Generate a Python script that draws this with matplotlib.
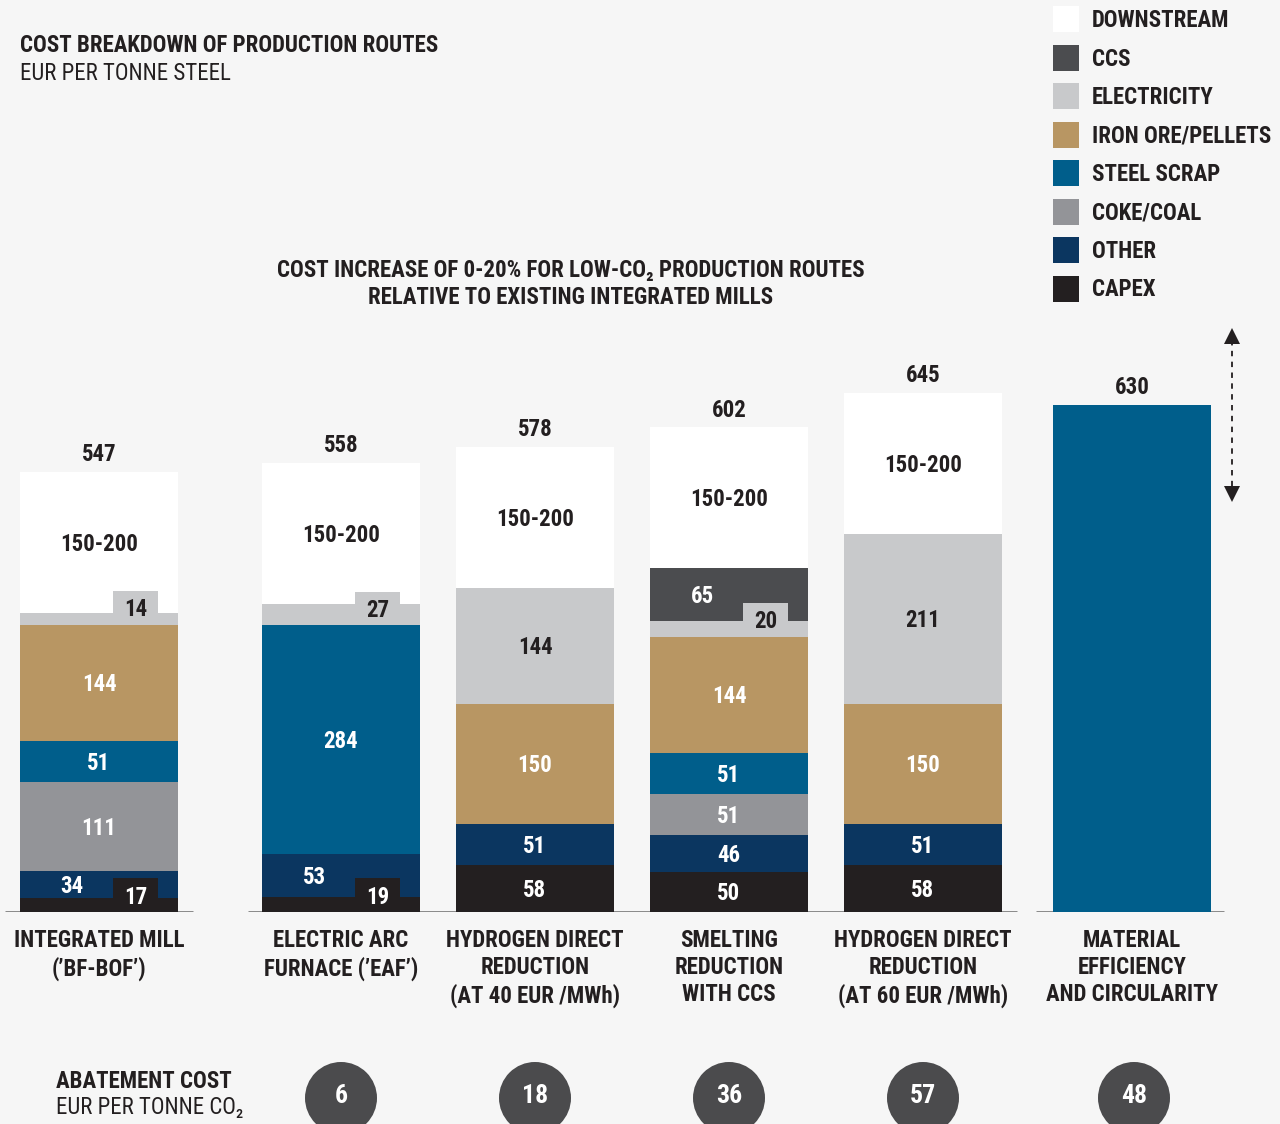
import matplotlib
matplotlib.use('Agg')
import matplotlib.pyplot as plt
from matplotlib import font_manager
from matplotlib.patches import Rectangle, Circle

# data (EUR per tonne steel), stacked bottom -> top
routes = ['INTEGRATED MILL\n(\u2019BF-BOF\u2019)',
          'ELECTRIC ARC\nFURNACE (\u2019EAF\u2019)',
          'HYDROGEN DIRECT\nREDUCTION\n(AT 40 EUR /MWh)',
          'SMELTING\nREDUCTION\nWITH CCS',
          'HYDROGEN DIRECT\nREDUCTION\n(AT 60 EUR /MWh)',
          'MATERIAL\nEFFICIENCY\nAND CIRCULARITY']
capex = [17, 19, 58, 50, 58, 0]
other = [34, 53, 51, 46, 51, 0]
coke_coal = [111, 0, 0, 51, 0, 0]
steel_scrap = [51, 284, 0, 51, 0, 630]
iron_ore = [144, 0, 150, 144, 150, 0]
electricity = [14, 27, 144, 20, 211, 0]
ccs = [0, 0, 0, 65, 0, 0]
downstream = [176, 175, 175, 175, 175, 0]
downstream_label = '150-200'
totals = [547, 558, 578, 602, 645, 630]
abatement = [None, 6, 18, 36, 57, 48]

components = [
    ('CAPEX', capex, '#231f20', 'white'),
    ('OTHER', other, '#0b3660', 'white'),
    ('COKE/COAL', coke_coal, '#939498', 'white'),
    ('STEEL SCRAP', steel_scrap, '#005e8b', 'white'),
    ('IRON ORE/PELLETS', iron_ore, '#b89663', 'white'),
    ('ELECTRICITY', electricity, '#c8c9cb', '#231f20'),
    ('CCS', ccs, '#4b4c4f', 'white'),
    ('DOWNSTREAM', downstream, '#ffffff', '#231f20'),
]
legend_order = ['DOWNSTREAM', 'CCS', 'ELECTRICITY', 'IRON ORE/PELLETS',
                'STEEL SCRAP', 'COKE/COAL', 'OTHER', 'CAPEX']

# layout (pixels)
W, H = 1280, 1124
base_px = 912
px_per_unit = 0.805
centers = [99, 341, 535, 729, 923, 1132]
bar_w = 158
bg = '#f6f6f6'
dark = '#231f20'
dy = 2.5  # nudge text down a bit (data units)

# pick a condensed font if one is installed
names = {f.name for f in font_manager.fontManager.ttflist}
cond = None
for cand in ['Roboto Condensed', 'Liberation Sans Narrow', 'Open Sans Condensed',
             'DejaVu Sans Condensed', 'Noto Sans Condensed']:
    if cand in names:
        cond = cand
        break
if cond is None:
    cond = 'Liberation Sans'
    fs = 13
else:
    fs = 16.5
fam = [cond, 'DejaVu Sans']
plt.rcParams['font.family'] = fam

fig = plt.figure(figsize=(W / 100, H / 100), dpi=100, facecolor=bg)
ax = fig.add_axes([0, (H - base_px) / H, 1, base_px / H])
ax.set_xlim(0, W)
ax.set_ylim(0, base_px / px_per_unit)
ax.axis('off')
ax.set_facecolor(bg)

ov = fig.add_axes([0, 0, 1, 1], zorder=5)
ov.set_xlim(0, W)
ov.set_ylim(H, 0)
ov.axis('off')
ov.patch.set_alpha(0)

tab_w = 45
tab_h = 42
bottoms = [0] * len(routes)
for ci, (name, vals, col, tcol) in enumerate(components):
    ax.bar(centers, vals, bar_w, bottom=bottoms, color=col, linewidth=0, zorder=2)
    for i, v in enumerate(vals):
        if v == 0 or i == len(routes) - 1:
            continue
        b = bottoms[i]
        if name == 'DOWNSTREAM':
            ax.text(centers[i], b + v / 2 - dy, downstream_label, ha='center', va='center',
                    fontsize=fs, fontweight='bold', color=tcol, zorder=4)
        elif v < 30:
            # small value: label on a tab sticking up
            x0 = centers[i] + bar_w / 2 - 20 - tab_w
            ax.add_patch(Rectangle((x0, b), tab_w, tab_h, color=col, lw=0, zorder=3))
            ax.text(x0 + tab_w / 2, b + tab_h / 2 - dy, str(v), ha='center', va='center',
                    fontsize=fs, fontweight='bold', color=tcol, zorder=4)
        else:
            x = centers[i]
            # shift left if the segment below carries a tab
            below = [c[1][i] for c in components[:ci] if c[1][i] > 0]
            if below and below[-1] < 30:
                x -= 27
            ax.text(x, b + v / 2 - dy, str(v), ha='center', va='center',
                    fontsize=fs, fontweight='bold', color=tcol, zorder=4)
    bottoms = [b + v for b, v in zip(bottoms, vals)]

for i, t in enumerate(totals):
    ax.text(centers[i], t + 24 - dy, str(t), ha='center', va='center',
            fontsize=fs, fontweight='bold', color=dark)

# baselines
for x0, x1 in [(5, 193), (248, 1017), (1036, 1224)]:
    ax.plot([x0, x1], [0, 0], color='#808080', lw=2, zorder=1, solid_capstyle='butt')

# range arrow next to material efficiency
ax.plot([1232, 1232], [(base_px - 340) / px_per_unit, (base_px - 490) / px_per_unit],
        color=dark, lw=1.3, ls=(0, (3, 3)))
ax.plot(1232, (base_px - 336) / px_per_unit, marker='^', ms=11, color=dark, mew=0)
ax.plot(1232, (base_px - 494) / px_per_unit, marker='v', ms=11, color=dark, mew=0)

# category labels
for i, r in enumerate(routes):
    ov.text(centers[i], 929, r, ha='center', va='top', fontsize=fs,
            fontweight='bold', color=dark, linespacing=1.22)

# titles
ov.text(20, 46, 'COST BREAKDOWN OF PRODUCTION ROUTES', ha='left', va='center',
        fontsize=fs, fontweight='bold', color=dark)
ov.text(20, 74, 'EUR PER TONNE STEEL', ha='left', va='center', fontsize=fs, color=dark)
ov.text(571, 284, 'COST INCREASE OF 0-20% FOR LOW-CO\u2082 PRODUCTION ROUTES\n'
        'RELATIVE TO EXISTING INTEGRATED MILLS', ha='center', va='center',
        fontsize=fs, fontweight='bold', color=dark, linespacing=1.27)

# legend
for k, name in enumerate(legend_order):
    col = [c[2] for c in components if c[0] == name][0]
    y = 19 + k * 38.5
    ov.add_patch(Rectangle((1053, y - 13), 26, 26, color=col, lw=0))
    ov.text(1092, y + 1.5, name, ha='left', va='center', fontsize=fs,
            fontweight='bold', color=dark)

# abatement cost
ov.text(56, 1081, 'ABATEMENT COST', ha='left', va='center', fontsize=fs,
        fontweight='bold', color=dark)
ov.text(56, 1108, 'EUR PER TONNE CO\u2082', ha='left', va='center', fontsize=fs,
        color=dark)
for i, a in enumerate(abatement):
    if a is None:
        continue
    ov.add_patch(Circle((centers[i] + (2 if i == 5 else 0), 1098), 36,
                        color='#4b4b4d', lw=0))
    ov.text(centers[i] + (2 if i == 5 else 0), 1096, str(a), ha='center', va='center',
            fontsize=fs + 2, fontweight='bold', color='white')

fig.savefig('out.png', dpi=100, facecolor=bg)
